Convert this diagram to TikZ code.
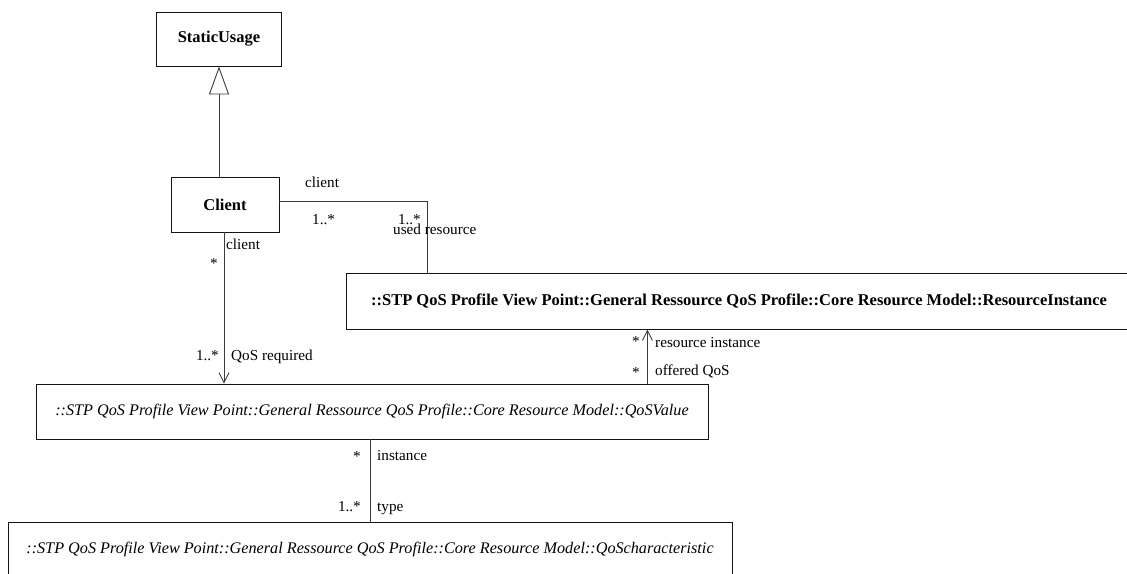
\documentclass[tikz,border=0pt]{standalone}
\usepackage{fontspec}
\setmainfont{Liberation Serif}
\usepackage{tikz}
\usetikzlibrary{arrows.meta, positioning, calc}
\definecolor{umlline}{RGB}{60,60,60}
\definecolor{umlbox}{RGB}{20,20,20}
\tikzset{
  classbox/.style={rectangle, draw=umlbox, fill=white, align=center,
    font=\fontsize{16.5}{18}\selectfont\bfseries, line width=0.9pt, inner sep=0pt},
  refbox/.style={rectangle, draw=umlbox, fill=white, align=center,
    font=\fontsize{16.2}{18}\selectfont\itshape, line width=0.9pt, inner sep=0pt},
  assoc/.style={line width=0.9pt, color=umlline},
  navarrow/.style={-{Straight Barb[length=10pt, width=10pt]}, line width=0.9pt, color=umlline},
  genarrow/.style={-{Triangle[open, length=28pt, width=20pt, fill=white]}, line width=0.9pt, color=umlline},
  role/.style={font=\fontsize{15.2}{17}\selectfont, inner sep=0pt}
}

\begin{document}
\begin{tikzpicture}[x=1pt, y=-1pt]
  \clip (0,0) rectangle (1127,573);
  % classes
  \node[classbox, minimum width=125pt, minimum height=54pt] (su) at (219,39) {StaticUsage};
  \node[classbox, minimum width=108pt, minimum height=55pt] (cl) at (225,204.5) {Client};
  \node[classbox, minimum width=786pt, minimum height=56pt] (ri) at (739,301)
    {::STP QoS Profile View Point::General Ressource QoS Profile::Core Resource Model::ResourceInstance};
  \node[refbox, minimum width=672pt, minimum height=55pt] (qv) at (372,411.5)
    {::STP QoS Profile View Point::General Ressource QoS Profile::Core Resource Model::QoSValue};
  \node[refbox, minimum width=724pt, minimum height=56pt] (qc) at (370,550)
    {::STP QoS Profile View Point::General Ressource QoS Profile::Core Resource Model::QoScharacteristic};
  % connectors
  \draw[genarrow] (su.south |- cl.north) -- (su.south);
  \draw[assoc] ([yshift=3.5pt]cl.east) -| ([xshift=-312pt]ri.north);
  \draw[navarrow] ([xshift=-1pt]cl.south) -- ([xshift=-1pt]cl.south |- qv.north);
  \draw[navarrow] ([xshift=-61pt]qv.north east) -- ([xshift=-61pt]qv.north east |- ri.south);
  \draw[assoc] ([xshift=-2pt]qv.south) -- ([xshift=-2pt]qv.south |- qc.north);
  % role names and multiplicities
  \node[role, anchor=base west] (r1) at (305,187) {client};
  \node[role, anchor=base west] (m1) at (312,224) {1..*};
  \node[role, anchor=base east] (m2) at (421,224) {1..*};
  \node[role, anchor=base west] (r2) at (393,234) {used resource};
  \node[role, anchor=base west] (r3) at (226,249) {client};
  \node[role, anchor=base east] (m3) at (218,268) {*};
  \node[role, anchor=base east] (m4) at (219,360) {1..*};
  \node[role, anchor=base west] (r4) at (231,360) {QoS required};
  \node[role, anchor=base east] (m5) at (640,346) {*};
  \node[role, anchor=base west] (r5) at (655,347) {resource instance};
  \node[role, anchor=base east] (m6) at (640,377) {*};
  \node[role, anchor=base west] (r6) at (655,375) {offered QoS};
  \node[role, anchor=base east] (m7) at (361,461) {*};
  \node[role, anchor=base west] (r7) at (377,460) {instance};
  \node[role, anchor=base east] (m8) at (361,511) {1..*};
  \node[role, anchor=base west] (r8) at (377,511) {type};
\end{tikzpicture}
\end{document}
